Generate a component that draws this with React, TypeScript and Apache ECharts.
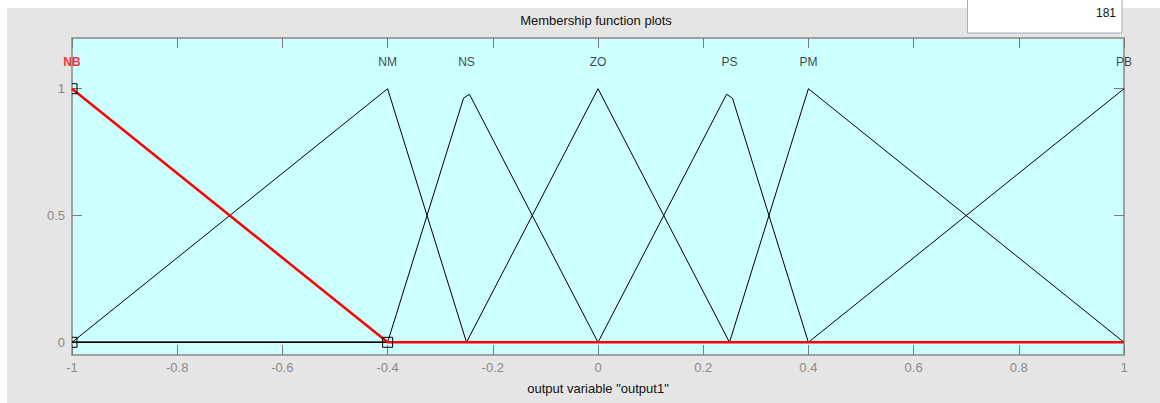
import React, { useEffect, useRef } from "react";
import * as echarts from "echarts";

// MF label names and their label positions (peak x)
const mfNames = ["NB", "NM", "NS", "ZO", "PS", "PM", "PB"];
const mfLabelX = [-1, -0.4, -0.25, 0, 0.25, 0.4, 1];
const mfLabelY = 1.105;

// Polyline vertices of each membership function (x, y)
const nbX = [-1, -0.4, 1];
const nbY = [1, 0, 0];
const nmX = [-1, -0.4, -0.25, 1];
const nmY = [0, 1, 0, 0];
const nsX = [-1, -0.4, -0.2556, -0.2444, 0, 1];
const nsY = [0, 0, 0.963, 0.978, 0, 0];
const zoX = [-1, -0.25, 0, 0.25, 1];
const zoY = [0, 0, 1, 0, 0];
const psX = [-1, 0, 0.2444, 0.2556, 0.4, 1];
const psY = [0, 0, 0.978, 0.963, 0, 0];
const pmX = [-1, 0.25, 0.4, 1];
const pmY = [0, 0, 1, 0];
const pbX = [-1, 0.4, 1];
const pbY = [0, 0, 1];

// Parameter markers of the selected MF (NB)
const markerX = [-1, -1, -0.4];
const markerY = [0, 1, 0];

const xTicks = { min: -1, max: 1, interval: 0.2 };
const yTickValues = [0, 0.5, 1];

const pointsBox = "181";
const titleText = "Membership function plots";
const xName = 'output variable "output1"';

const zip = (xs: number[], ys: number[]) => xs.map((x, i) => [x, ys[i]]);

export default function App() {
  const ref = useRef<HTMLDivElement>(null);
  useEffect(() => {
    if (!ref.current) return;
    const chart = echarts.init(ref.current, undefined, { renderer: "svg" });
    const font = "Arial, 'Liberation Sans', sans-serif";
    const axisColor = "#a0a0a0";
    const tickColor = "#7a7a7a";
    const blackSeries = [
      zip(nmX, nmY),
      zip(nsX, nsY),
      zip(zoX, zoY),
      zip(psX, psY),
      zip(pmX, pmY),
      zip(pbX, pbY),
    ].map((d) => ({
      type: "line",
      data: d,
      showSymbol: false,
      symbol: "none",
      lineStyle: { color: "#000", width: 1 },
      xAxisIndex: 0,
      yAxisIndex: 0,
      z: 2,
      silent: true,
    }));
    chart.setOption({
      animation: false,
      backgroundColor: "#fff",
      graphic: [
        {
          type: "rect",
          shape: { x: 7, y: 8, width: 1160, height: 400 },
          style: { fill: "#e5e5e5" },
          z: -10,
        },
        {
          type: "rect",
          shape: { x: 967.5, y: -1, width: 154.5, height: 34 },
          style: { fill: "#fff", stroke: "#a3acc0", lineWidth: 1 },
          z: -5,
        },
        {
          type: "text",
          x: 1116,
          y: 13,
          style: {
            text: pointsBox,
            fill: "#111",
            font: `12px ${font}`,
            textAlign: "right",
            textVerticalAlign: "middle",
          },
          z: -4,
        },
        {
          type: "text",
          x: 596,
          y: 20,
          style: {
            text: titleText,
            fill: "#111",
            font: `13px ${font}`,
            textAlign: "center",
            textVerticalAlign: "middle",
          },
          z: -4,
        },
      ],
      grid: {
        left: 72,
        top: 38,
        width: 1052,
        height: 317,
        show: true,
        backgroundColor: "#ccffff",
        borderWidth: 0,
      },
      xAxis: [
        {
          type: "value",
          min: xTicks.min,
          max: xTicks.max,
          interval: xTicks.interval,
          position: "bottom",
          axisLine: { show: true, onZero: false, lineStyle: { color: axisColor, width: 2 } },
          axisTick: { show: true, inside: true, length: 10, lineStyle: { color: tickColor } },
          axisLabel: { color: "#8a8a8a", fontSize: 13, fontFamily: font, margin: 6 },
          splitLine: { show: false },
          name: xName,
          nameLocation: "middle",
          nameGap: 27,
          nameTextStyle: { color: "#111", fontSize: 13, fontFamily: font },
        },
        {
          type: "value",
          min: xTicks.min,
          max: xTicks.max,
          interval: xTicks.interval,
          position: "top",
          axisLine: { show: true, onZero: false, lineStyle: { color: axisColor, width: 2 } },
          axisTick: { show: true, inside: true, length: 10, lineStyle: { color: tickColor } },
          axisLabel: { show: false },
          splitLine: { show: false },
        },
      ],
      yAxis: [
        {
          type: "value",
          min: -0.05,
          max: 1.2,
          position: "left",
          axisLine: { show: true, onZero: false, lineStyle: { color: axisColor, width: 2 } },
          axisTick: {
            show: true,
            inside: true,
            length: 10,
            customValues: yTickValues,
            lineStyle: { color: tickColor },
          },
          axisLabel: {
            color: "#8a8a8a",
            fontSize: 13,
            fontFamily: font,
            margin: 7,
            customValues: yTickValues,
          },
          splitLine: { show: false },
        },
        {
          type: "value",
          min: -0.05,
          max: 1.2,
          position: "right",
          axisLine: { show: true, onZero: false, lineStyle: { color: axisColor, width: 2 } },
          axisTick: {
            show: true,
            inside: true,
            length: 10,
            customValues: yTickValues,
            lineStyle: { color: tickColor },
          },
          axisLabel: { show: false, customValues: yTickValues },
          splitLine: { show: false },
        },
      ],
      series: [
        ...blackSeries,
        {
          type: "line",
          data: zip(nbX, nbY),
          showSymbol: false,
          symbol: "none",
          lineStyle: { color: "#ff0000", width: 2.5 },
          z: 3,
          silent: true,
        },
        {
          type: "custom",
          clip: true,
          z: 4,
          silent: true,
          data: zip(markerX, markerY),
          renderItem: (params: any, api: any) => {
            const p = api.coord([api.value(0), api.value(1)]);
            return {
              type: "rect",
              shape: { x: p[0] - 5, y: p[1] - 5, width: 10, height: 10 },
              style: { fill: "none", stroke: "#000", lineWidth: 1 },
            };
          },
        },
        {
          type: "scatter",
          symbolSize: 0,
          silent: true,
          z: 5,
          data: mfNames.map((n, i) => ({
            name: n,
            value: [mfLabelX[i], mfLabelY],
            label: {
              show: true,
              position: "inside",
              formatter: n,
              color: i === 0 ? "#ff0000" : "#111",
              fontWeight: i === 0 ? "bold" : "normal",
              fontSize: 12,
              fontFamily: font,
            },
          })),
        },
      ],
    });
    return () => chart.dispose();
  }, []);
  return (
    <div
      ref={ref}
      style={{ position: "fixed", left: 0, top: 0, width: 1160, height: 403 }}
    />
  );
}
